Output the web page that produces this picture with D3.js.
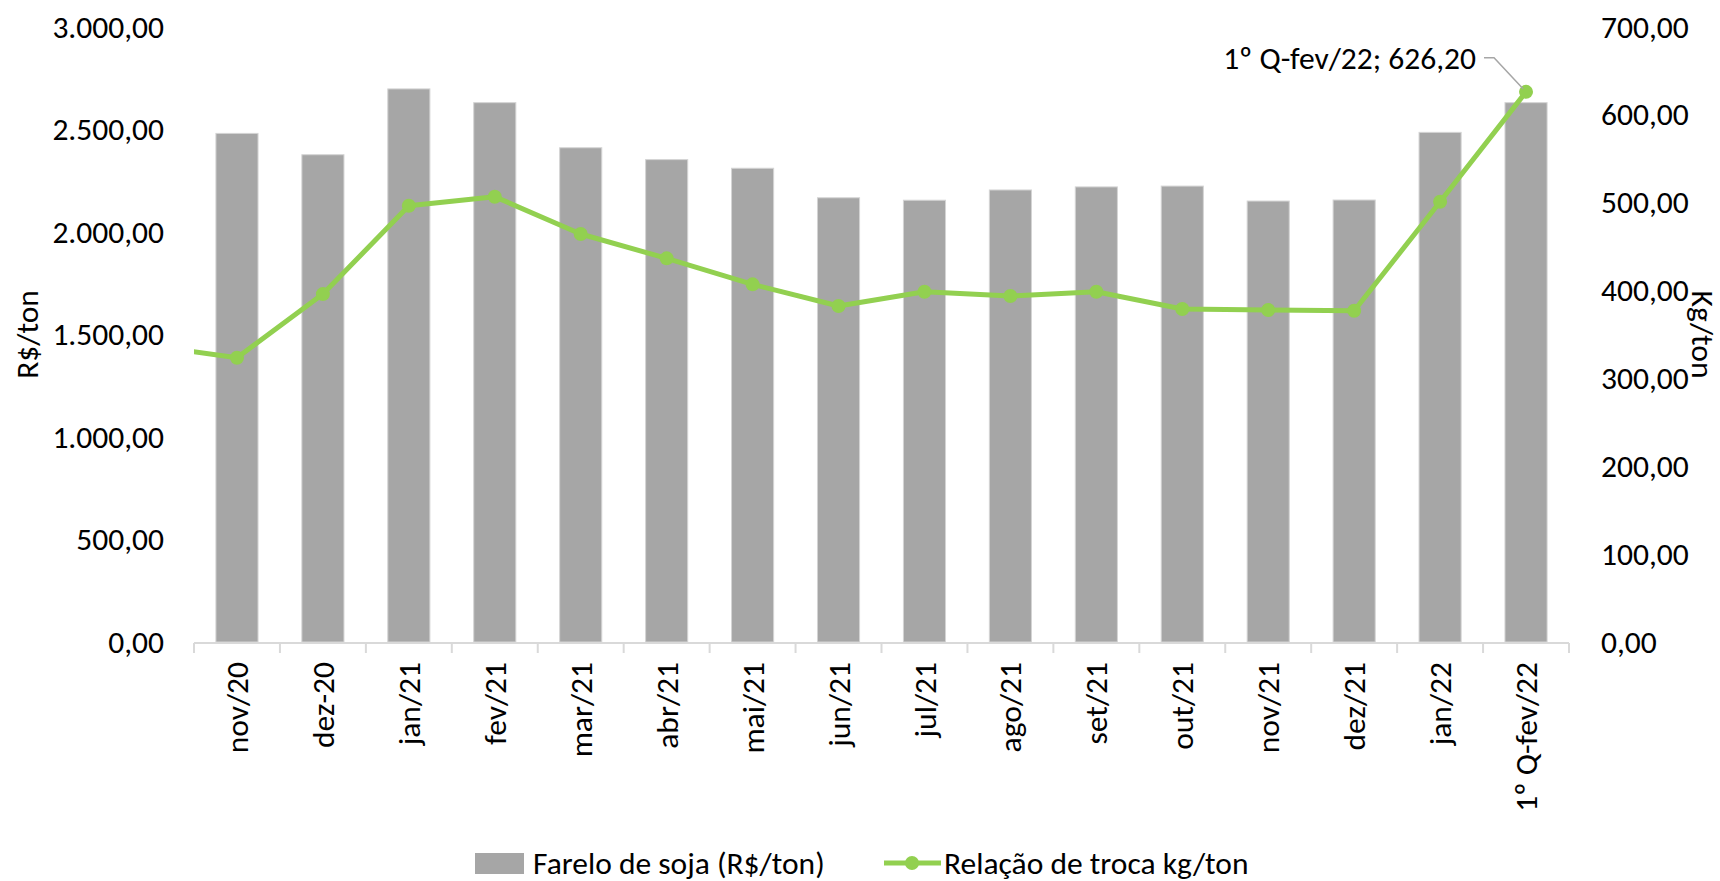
<!DOCTYPE html>
<html>
<head>
<meta charset="utf-8">
<script src="https://cdn.jsdelivr.net/npm/d3@7"></script>
<style>
  html, body { margin: 0; padding: 0; background: #fff; }
  svg { display: block; }
  text { font-family: Carlito, Lato, "Open Sans", sans-serif; fill: #000; }
</style>
</head>
<body>
<svg id="chart" width="1720" height="881"></svg>
<script>
// ---- data ----
const categories = ["nov/20","dez-20","jan/21","fev/21","mar/21","abr/21","mai/21","jun/21","jul/21","ago/21","set/21","out/21","nov/21","dez/21","jan/22","1º Q-fev/22"];
const farelo = [2481, 2377, 2698, 2631, 2411, 2353, 2311, 2167, 2155, 2205, 2220, 2224, 2151, 2156, 2486, 2631];
const relacao = [323.6, 396, 496.6, 506.8, 464.4, 436.7, 407.1, 382.4, 398.7, 393.8, 398.7, 379, 377.9, 377.1, 501.1, 626.2];
// preceding month (outside the axis, only its connecting segment shows)
const prevCategory = "out/20";
const prevRelacao = 337;
const leftTicks = [0, 500, 1000, 1500, 2000, 2500, 3000];
const rightTicks = [0, 100, 200, 300, 400, 500, 600, 700];
const seriesNames = ["Farelo de soja (R$/ton)", "Relação de troca kg/ton"];
const leftTitle = "R$/ton";
const rightTitle = "Kg/ton";

// ---- layout ----
const svg = d3.select("#chart");
const plot = { left: 194, right: 1569, top: 27, bottom: 642 };
const barColor = "#A6A6A6";
const lineColor = "#92D050";
const axisColor = "#D9D9D9";
const fontSize = 31.5;
const fontFam = "Carlito, Lato, 'Open Sans', sans-serif";

const fmt = v => {
  const s = v.toFixed(2).split(".");
  const intPart = s[0].replace(/\B(?=(\d{3})+(?!\d))/g, ".");
  return intPart + "," + s[1];
};

const x = d3.scaleBand().domain(categories).range([plot.left, plot.right]).paddingInner(0.51).paddingOuter(0.255);
const xc = d3.scalePoint().domain(categories).range([plot.left, plot.right]).padding(0.5);
const step = (plot.right - plot.left) / categories.length;
const yL = d3.scaleLinear().domain([0, 3000]).range([plot.bottom, plot.top]);
const yR = d3.scaleLinear().domain([0, 700]).range([plot.bottom, plot.top]);

svg.append("defs").append("clipPath").attr("id", "plotclip")
  .append("rect").attr("x", plot.left).attr("y", 0)
  .attr("width", plot.right - plot.left).attr("height", plot.bottom + 20);

// bars
svg.append("g").selectAll("rect").data(categories).join("rect")
  .attr("x", d => x(d))
  .attr("width", x.bandwidth())
  .attr("y", (d, i) => yL(farelo[i]))
  .attr("height", (d, i) => yL(0) - yL(farelo[i]))
  .attr("fill", barColor)
  .attr("stroke", "#D4D4D4")
  .attr("stroke-width", 1);

// x axis
const xAxis = d3.axisBottom(x).tickSize(0).tickFormat(d => d);
const gx = svg.append("g").attr("transform", `translate(0,${plot.bottom})`).call(xAxis);
gx.select(".domain").remove();
gx.selectAll(".tick text")
  .attr("font-size", fontSize)
  .attr("font-family", fontFam)
  .attr("fill", "#000")
  .attr("transform", "rotate(-90)")
  .attr("text-anchor", "end")
  .attr("x", -20)
  .attr("y", 0)
  .attr("dy", "0.35em");
svg.append("line")
  .attr("x1", plot.left).attr("x2", plot.right)
  .attr("y1", plot.bottom + 1).attr("y2", plot.bottom + 1)
  .attr("stroke", axisColor).attr("stroke-width", 2);
const boundaries = d3.range(categories.length + 1).map(i => plot.left + i * step);
svg.append("g").selectAll("line").data(boundaries).join("line")
  .attr("x1", d => d).attr("x2", d => d)
  .attr("y1", plot.bottom + 1).attr("y2", plot.bottom + 11)
  .attr("stroke", axisColor).attr("stroke-width", 2);

// left axis
const gl = svg.append("g").attr("transform", `translate(${plot.left - 30},0)`)
  .call(d3.axisLeft(yL).tickValues(leftTicks).tickSize(0).tickFormat(fmt));
gl.select(".domain").remove();
gl.selectAll(".tick text").attr("font-size", fontSize).attr("fill", "#000")
  .attr("font-family", fontFam).attr("x", 0);

// right axis
const gr = svg.append("g").attr("transform", `translate(${plot.right + 32},0)`)
  .call(d3.axisRight(yR).tickValues(rightTicks).tickSize(0).tickFormat(fmt));
gr.select(".domain").remove();
gr.selectAll(".tick text").attr("font-size", fontSize).attr("fill", "#000")
  .attr("font-family", fontFam).attr("x", 0);

// axis titles
svg.append("text").attr("transform", `translate(27,${(plot.top + plot.bottom) / 2}) rotate(-90)`)
  .attr("text-anchor", "middle").attr("dy", "0.35em").attr("font-size", fontSize).text(leftTitle);
svg.append("text").attr("transform", `translate(1703,${(plot.top + plot.bottom) / 2}) rotate(90)`)
  .attr("text-anchor", "middle").attr("dy", "0.35em").attr("font-size", fontSize).text(rightTitle);

// line
const linePts = [{ x: xc(categories[0]) - step, v: prevRelacao }]
  .concat(categories.map((c, i) => ({ x: xc(c), v: relacao[i] })));
const lineGen = d3.line().x(d => d.x).y(d => yR(d.v));
svg.append("path").datum(linePts)
  .attr("clip-path", "url(#plotclip)")
  .attr("d", lineGen)
  .attr("fill", "none").attr("stroke", lineColor).attr("stroke-width", 5)
  .attr("stroke-linejoin", "round");
svg.append("g").selectAll("circle").data(categories).join("circle")
  .attr("cx", d => xc(d))
  .attr("cy", (d, i) => yR(relacao[i]))
  .attr("r", 7)
  .attr("fill", lineColor);

// data label for last point
const li = categories.length - 1;
const lpx = xc(categories[li]), lpy = yR(relacao[li]);
svg.append("polyline")
  .attr("points", `${lpx - 3},${lpy - 3} ${lpx - 32},${lpy - 34} ${lpx - 42},${lpy - 34}`)
  .attr("fill", "none").attr("stroke", "#A6A6A6").attr("stroke-width", 1.5);
svg.append("text")
  .attr("x", lpx - 50).attr("y", lpy - 34).attr("dy", "0.35em")
  .attr("text-anchor", "end").attr("font-size", fontSize)
  .text(`${categories[li]}; ${fmt(relacao[li])}`);

// legend
const legY = 863;
svg.append("rect").attr("x", 475).attr("y", legY - 10).attr("width", 49).attr("height", 21).attr("fill", barColor);
svg.append("text").attr("x", 533).attr("y", legY).attr("dy", "0.35em").attr("font-size", fontSize).text(seriesNames[0]);
svg.append("line").attr("x1", 884).attr("x2", 941).attr("y1", legY).attr("y2", legY)
  .attr("stroke", lineColor).attr("stroke-width", 5);
svg.append("circle").attr("cx", 912).attr("cy", legY).attr("r", 7).attr("fill", lineColor);
svg.append("text").attr("x", 944).attr("y", legY).attr("dy", "0.35em").attr("font-size", fontSize).text(seriesNames[1]);
</script>
</body>
</html>
